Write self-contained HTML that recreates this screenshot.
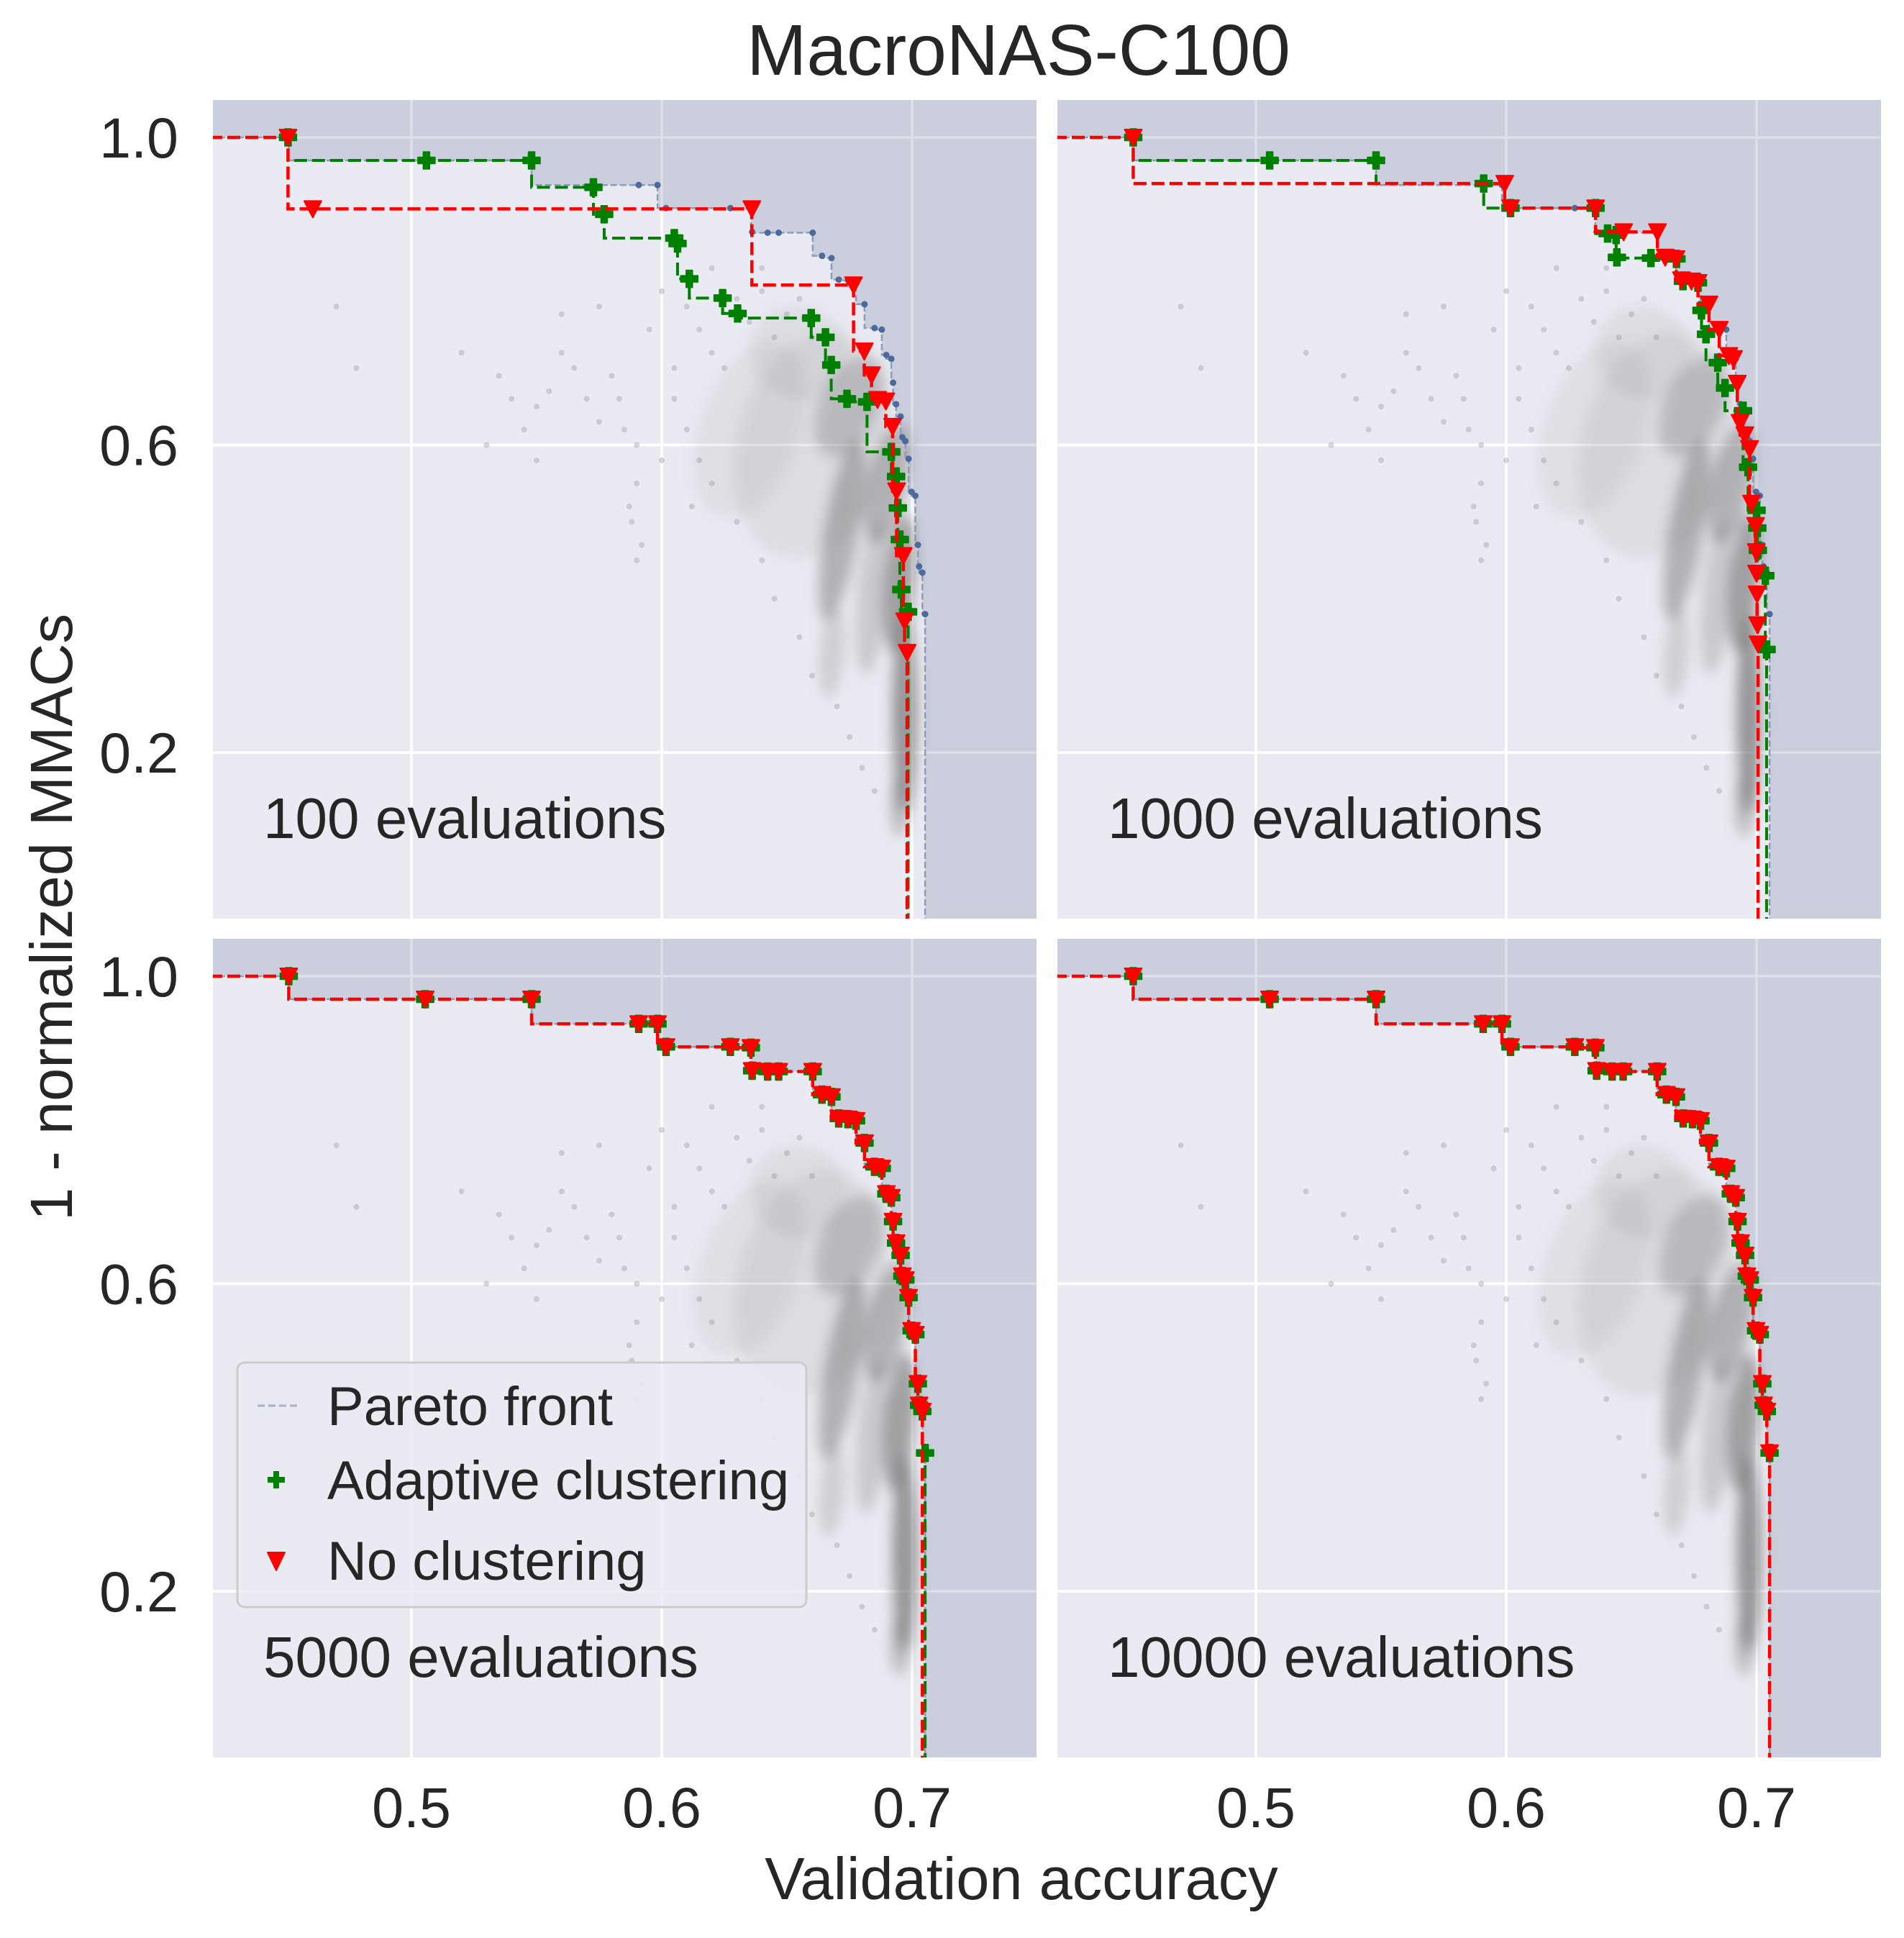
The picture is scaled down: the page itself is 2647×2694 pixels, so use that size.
<!DOCTYPE html>
<html><head><meta charset="utf-8"><style>
html,body{margin:0;padding:0;background:#fff;}
svg{display:block;font-family:"Liberation Sans",Arial,sans-serif;}
</style></head><body>
<svg id="fig" xmlns="http://www.w3.org/2000/svg" width="2647" height="2694" viewBox="0 0 2647 2694">
<defs>
<filter id="blur" x="-50%" y="-50%" width="200%" height="200%"><feGaussianBlur stdDeviation="9"/></filter>
</defs>
<text x="1416" y="104" font-size="100" fill="#262626" text-anchor="middle">MacroNAS-C100</text>
<text transform="translate(100,1275) rotate(-90)" font-size="83" fill="#262626" text-anchor="middle">1 - normalized MMACs</text>
<text x="1420" y="2640" font-size="83" fill="#262626" text-anchor="middle">Validation accuracy</text>
<g id="panels"></g>
<g id="legend">
<rect x="330" y="1894" width="791" height="340" rx="10" fill="#eaeaf2" fill-opacity="0.85" stroke="#cccccc" stroke-width="3"/>
<g>
<line x1="358" y1="1954" x2="416" y2="1954" stroke="#a8b1c6" stroke-width="3" stroke-dasharray="10,5"/>
<text x="455" y="1981" font-size="76" fill="#262626">Pareto front</text></g>
<g>
<path d="M380,2045h8v8h8v8h-8v8h-8v-8h-8v-8h8z" fill="#008000"/>
<text x="455" y="2084" font-size="76" fill="#262626">Adaptive clustering</text></g>
<g>
<path d="M372,2158L396,2158L384,2183Z" fill="#ff0000" stroke="#ff0000" stroke-width="2" stroke-linejoin="round"/>
<text x="455" y="2196" font-size="76" fill="#262626">No clustering</text></g>
</g>
</svg>
<script>
// axis domain
const X_MIN = 0.4207, X_MAX = 0.7497, Y_MIN = -0.016, Y_MAX = 1.0486;
const xTicks = [0.5, 0.6, 0.7];
const xTickLabels = ["0.5", "0.6", "0.7"];
const yTicks = [1.0, 0.6, 0.2];
const yTickLabels = ["1.0", "0.6", "0.2"];
const panelLabels = ["100 evaluations", "1000 evaluations", "5000 evaluations", "10000 evaluations"];

// true Pareto front
const frontX = [0.451,0.5055,0.548,0.5908,0.5983,0.6017,0.6274,0.6356,0.6361,0.6423,0.6467,0.6603,0.6640,0.6678,0.6707,0.6744,0.6776,0.6810,0.6850,0.6879,0.6897,0.6917,0.6924,0.6936,0.6954,0.6961,0.6973,0.6986,0.6998,0.7013,0.7023,0.7028,0.7041,0.7052];
const frontY = [1.0,0.970,0.970,0.938,0.938,0.908,0.908,0.907,0.877,0.876,0.876,0.876,0.846,0.843,0.815,0.814,0.812,0.783,0.752,0.750,0.717,0.712,0.681,0.653,0.637,0.610,0.605,0.582,0.539,0.534,0.470,0.442,0.434,0.380];

// 100 evaluations
const g100X = [0.4507,0.506,0.548,0.5727,0.5770,0.6050,0.6063,0.611,0.6243,0.6303,0.6597,0.6654,0.6677,0.6740,0.682,0.6917,0.6936,0.6943,0.6951,0.6957,0.6984];
const g100Y = [1.0,0.970,0.970,0.935,0.900,0.869,0.862,0.816,0.791,0.771,0.765,0.740,0.704,0.660,0.656,0.591,0.559,0.518,0.477,0.412,0.383];
const r100X = [0.4507,0.4606,0.636,0.6766,0.6809,0.6838,0.6862,0.6895,0.6922,0.6938,0.6965,0.6970,0.6980];
const r100Y = [1.0,0.907,0.907,0.808,0.722,0.691,0.659,0.657,0.624,0.540,0.456,0.371,0.330];
// 1000 evaluations
const g1000X = [0.451,0.5055,0.548,0.591,0.6017,0.6357,0.6405,0.6439,0.6442,0.6578,0.668,0.6706,0.6766,0.678,0.6798,0.6845,0.6874,0.6946,0.6966,0.7000,0.7003,0.7005,0.7035,0.704];
const g1000Y = [1.0,0.970,0.970,0.940,0.908,0.908,0.875,0.873,0.844,0.843,0.842,0.813,0.811,0.775,0.744,0.707,0.674,0.6445,0.571,0.515,0.492,0.463,0.430,0.334];
const r1000X = [0.451,0.5994,0.6017,0.6357,0.6469,0.6604,0.6635,0.6678,0.6700,0.6740,0.6766,0.6810,0.6851,0.6889,0.6908,0.6923,0.6934,0.6953,0.6972,0.6980,0.6996,0.6999,0.7000,0.7002,0.7004,0.7006];
const r1000Y = [1.0,0.940,0.908,0.908,0.877,0.877,0.844,0.842,0.8145,0.813,0.811,0.783,0.750,0.716,0.712,0.680,0.629,0.613,0.595,0.524,0.495,0.461,0.433,0.406,0.366,0.341];
// 5000 evaluations
const g5000X = frontX.slice();
const g5000Y = frontY.slice();
const r5000X = frontX.slice(0, -1);
const r5000Y = frontY.slice(0, -1);
// 10000 evaluations
const g10000X = frontX.slice();
const g10000Y = frontY.slice();
const r10000X = frontX.slice();
const r10000Y = frontY.slice();

// background evaluated architectures: density blobs
const cloudX = [0.697,0.695,0.690,0.672,0.675,0.66,0.635,0.695,0.668,0.655,0.684];
const cloudY = [0.25,0.42,0.55,0.49,0.65,0.6,0.62,0.13,0.33,0.72,0.40];
const cloudRX = [0.005,0.006,0.008,0.007,0.012,0.03,0.02,0.004,0.005,0.02,0.006];
const cloudRY = [0.13,0.09,0.08,0.12,0.07,0.15,0.12,0.04,0.06,0.06,0.1];
const cloudRot = [0,5,12,10,25,15,20,0,5,25,5];
const cloudOp = [0.75,0.65,0.5,0.5,0.35,0.12,0.1,0.4,0.25,0.12,0.3];
// sparse individual architectures
const sparseX = [0.470,0.478,0.52,0.535,0.54,0.55,0.555,0.56,0.565,0.57,0.575,0.58,0.583,0.585,0.59,0.587,0.588,0.590,0.592,0.59,0.545,0.53,0.55,0.56,0.575,0.60,0.61,0.615,0.62,0.625,0.605,0.61,0.615,0.62,0.612,0.605,0.60,0.595,0.63,0.64,0.635,0.645,0.65,0.655,0.66,0.64,0.62,0.63,0.64,0.645,0.655,0.66,0.67,0.675,0.68,0.685];
const sparseY = [0.78,0.70,0.72,0.69,0.66,0.65,0.67,0.72,0.70,0.66,0.63,0.69,0.66,0.62,0.60,0.52,0.50,0.55,0.47,0.45,0.62,0.60,0.58,0.77,0.78,0.80,0.78,0.75,0.72,0.70,0.66,0.62,0.58,0.55,0.52,0.70,0.58,0.75,0.79,0.80,0.76,0.74,0.77,0.79,0.74,0.83,0.83,0.50,0.45,0.40,0.35,0.30,0.26,0.22,0.18,0.15];

const panels = [
  {ox:296, oy:139, name:"panel-100", gx:g100X, gy:g100Y, rx:r100X, ry:r100Y, xt:false, yt:true},
  {ox:1470, oy:139, name:"panel-1000", gx:g1000X, gy:g1000Y, rx:r1000X, ry:r1000Y, xt:false, yt:false},
  {ox:296, oy:1305, name:"panel-5000", gx:g5000X, gy:g5000Y, rx:r5000X, ry:r5000Y, xt:true, yt:true},
  {ox:1470, oy:1305, name:"panel-10000", gx:g10000X, gy:g10000Y, rx:r10000X, ry:r10000Y, xt:true, yt:false}
];
const PW = 1145, PH = 1138;
const NS = "http://www.w3.org/2000/svg";
function mk(tag, attrs, parent){ const e=document.createElementNS(NS,tag); for(const k in attrs) e.setAttribute(k,attrs[k]); if(parent) parent.appendChild(e); return e; }
const root = document.getElementById('panels');

panels.forEach((p, pi) => {
  const sx = v => p.ox + (v - X_MIN) / (X_MAX - X_MIN) * PW;
  const sy = v => p.oy + (Y_MAX - v) / (Y_MAX - Y_MIN) * PH;
  const g = mk('g', {}, root);
  
  
  const cp = mk('clipPath', {id:'clip'+pi}, g);
  mk('rect', {x:p.ox, y:p.oy, width:PW, height:PH}, cp);
  const inner = mk('g', {'clip-path':'url(#clip'+pi+')'}, g);
  const bg = mk('rect', {x:p.ox, y:p.oy, width:PW, height:PH, fill:'#eaeaf2'}, inner);
  
  
  xTicks.forEach(t => { mk('line', {x1:sx(t), x2:sx(t), y1:p.oy, y2:p.oy+PH, stroke:'#fff', 'stroke-width':3.5}, inner); });
  yTicks.forEach(t => { mk('line', {y1:sy(t), y2:sy(t), x1:p.ox, x2:p.ox+PW, stroke:'#fff', 'stroke-width':3.5}, inner); });
  let d = `M${p.ox},${p.oy}H${p.ox+PW}V${p.oy+PH}H${p.ox}Z `;
  d += `M${p.ox-5},${p.oy+PH+5}V${sy(frontY[0])}`;
  for (let i=0;i<frontX.length;i++){ d += `H${sx(frontX[i])}`; if(i+1<frontX.length) d += `V${sy(frontY[i+1])}`; }
  d += `V${p.oy+PH+5}Z`;
  const sh = mk('path', {d:d, fill:'rgb(71,92,131)', 'fill-opacity':0.19, 'fill-rule':'evenodd'}, inner);
  
  
  const cg = mk('g', {filter:'url(#blur)'}, inner);
  
  
  for (let i=0;i<cloudX.length;i++){
    const cx=sx(cloudX[i]), cy=sy(cloudY[i]);
    mk('ellipse', {cx:cx, cy:cy, rx:cloudRX[i]*PW/(X_MAX-X_MIN), ry:cloudRY[i]*PH/(Y_MAX-Y_MIN), fill:'#7a7a7a', 'fill-opacity':cloudOp[i], transform:`rotate(${cloudRot[i]},${cx},${cy})`}, cg);
  }
  const spg = mk('g', {}, inner);
  
  
  for (let i=0;i<sparseX.length;i++){
    mk('circle', {cx:sx(sparseX[i]), cy:sy(sparseY[i]), r:4, fill:'#808080', 'fill-opacity':0.3}, spg);
  }
  function step(xs, ys){
    let s = `M${p.ox-5},${sy(ys[0])}`;
    for (let i=0;i<xs.length;i++){ s += `H${sx(xs[i])}`; if(i+1<xs.length) s += `V${sy(ys[i+1])}`; }
    s += `V${p.oy+PH+5}`;
    return s;
  }
  const pf = mk('g', {}, inner);
  
  
  mk('path', {d:step(frontX, frontY), fill:'none', stroke:'#8c9cba', 'stroke-width':2.5, 'stroke-dasharray':'9,4'}, pf);
  for (let i=0;i<frontX.length;i++) mk('circle', {cx:sx(frontX[i]), cy:sy(frontY[i]), r:4.5, fill:'#4c6a9b'}, pf);
  const ag = mk('g', {}, inner);
  
  
  mk('path', {d:step(p.gx, p.gy), fill:'none', stroke:'#008000', 'stroke-width':4, 'stroke-dasharray':'18,7'}, ag);
  for (let i=0;i<p.gx.length;i++){
    const x=sx(p.gx[i]), y=sy(p.gy[i]);
    mk('path', {d:`M${x-4.5},${y-12}h9v7.5h7.5v9h-7.5v7.5h-9v-7.5h-7.5v-9h7.5z`, fill:'#008000', stroke:'#008000', 'stroke-width':1.5, 'stroke-linejoin':'round'}, ag);
  }
  const rg = mk('g', {}, inner);
  
  
  mk('path', {d:step(p.rx, p.ry), fill:'none', stroke:'#ff0000', 'stroke-width':4.5, 'stroke-dasharray':'18,7'}, rg);
  for (let i=0;i<p.rx.length;i++){
    const x=sx(p.rx[i]), y=sy(p.ry[i]);
    mk('path', {d:`M${x-12},${y-11}L${x+12},${y-11}L${x},${y+12}Z`, fill:'#ff0000', stroke:'#ff0000', 'stroke-width':2, 'stroke-linejoin':'round'}, rg);
  }
  const lt = mk('text', {x:p.ox+70, y:p.oy+1026, 'font-size':80, fill:'#262626'}, g);
  lt.textContent = panelLabels[pi];
  
  
  if (p.yt) yTicks.forEach((t,i) => {
    const e = mk('text', {x:248, y:sy(t)+28, 'font-size':79, fill:'#262626', 'text-anchor':'end'}, g);
    e.textContent = yTickLabels[i];
    
    
  });
  if (p.xt) xTicks.forEach((t,i) => {
    const e = mk('text', {x:sx(t), y:2540, 'font-size':79, fill:'#262626', 'text-anchor':'middle'}, g);
    e.textContent = xTickLabels[i];
    
    
  });
});
document.getElementById('fig').appendChild(document.getElementById('legend'));
</script>
</body></html>
